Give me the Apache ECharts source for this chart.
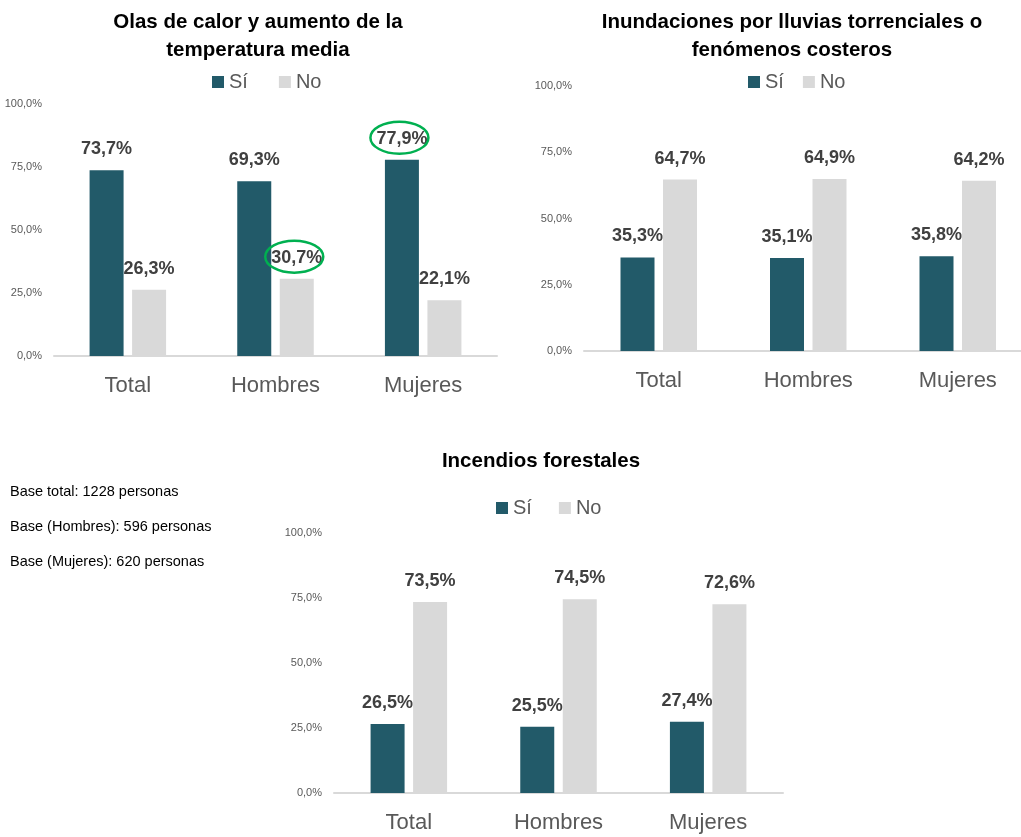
<!DOCTYPE html>
<html>
<head>
<meta charset="utf-8">
<script src="https://cdn.jsdelivr.net/npm/echarts@6/dist/echarts.min.js"></script>
<style>
  html, body { margin: 0; padding: 0; background: #fff; }
  #main { width: 1021px; height: 837px; }
</style>
</head>
<body>
<div id="main"></div>
<script>
// datos de la encuesta
var categorias = ['Total', 'Hombres', 'Mujeres'];
var calorSi = [73.7, 69.3, 77.9];
var calorNo = [26.3, 30.7, 22.1];
var inundSi = [35.3, 35.1, 35.8];
var inundNo = [64.7, 64.9, 64.2];
var incendSi = [26.5, 25.5, 27.4];
var incendNo = [73.5, 74.5, 72.6];
var titulos = ['Olas de calor y aumento de la\ntemperatura media', 'Inundaciones por lluvias torrenciales o\nfenómenos costeros', 'Incendios forestales'];
var notas = ['Base total: 1228 personas', 'Base (Hombres): 596 personas', 'Base (Mujeres): 620 personas'];
// etiquetas rodeadas en verde: [grid, serie, indice]
var destacados = [[0, 0, 2], [0, 1, 1]];

var FONT = '"Liberation Sans Narrow", "Arial Narrow", "Liberation Sans", Arial, sans-serif';
var colSi = '#225a69';
var colNo = '#d9d9d9';

function pct(v) {
    return v.toFixed(1).replace('.', ',') + '%';
}

(function () {
    var myChart = echarts.init(document.getElementById('main'));

    var grids = [
        { left: 54, right: 524, top: 104, bottom: 481, outerBoundsMode: 'none' },
        { left: 584, right: -11.5, top: 86, bottom: 486, outerBoundsMode: 'none' },
        { left: 334, right: 238, top: 533, bottom: 44, outerBoundsMode: 'none' }
    ];
    var datos = [[calorSi, calorNo], [inundSi, inundNo], [incendSi, incendNo]];

    var xAxes = [], yAxes = [], series = [];
    grids.forEach(function (g, i) {
        xAxes.push({
            type: 'category',
            gridIndex: i,
            data: categorias,
            axisTick: { show: false },
            axisLine: { lineStyle: { color: '#d9d9d9', width: 2 } },
            axisLabel: { color: '#595959', fontSize: 22, fontFamily: FONT, margin: 19 }
        });
        yAxes.push({
            type: 'value',
            gridIndex: i,
            min: 0,
            max: 100,
            interval: 25,
            splitLine: { show: false },
            axisLine: { show: false },
            axisTick: { show: false },
            axisLabel: {
                color: '#595959', fontSize: 11, fontFamily: FONT, margin: 12,
                formatter: function (v) { return pct(v); }
            }
        });
        ['Sí', 'No'].forEach(function (nombre, k) {
            series.push({
                name: nombre,
                type: 'bar',
                xAxisIndex: i,
                yAxisIndex: i,
                data: datos[i][k],
                barWidth: 34,
                barGap: '25%',
                itemStyle: { color: k === 0 ? colSi : colNo },
                label: {
                    show: true,
                    position: 'top',
                    distance: 12,
                    color: '#404040',
                    fontSize: 18,
                    fontWeight: 'bold',
                    fontFamily: FONT,
                    formatter: function (p) { return pct(p.value); }
                }
            });
        });
    });

    var leyenda = function (left, top, gap) {
        return {
            left: left, top: top,
            padding: 0,
            data: ['Sí', 'No'],
            itemWidth: 12, itemHeight: 12, itemGap: gap,
            icon: 'rect',
            selectedMode: false,
            textStyle: { color: '#595959', fontSize: 20, fontFamily: FONT }
        };
    };

    var graficos = [
        { type: 'text', x: 258, y: 8, style: { text: titulos[0], textAlign: 'center', font: 'bold 20.5px ' + FONT, fill: '#000', lineHeight: 28 } },
        { type: 'text', x: 792, y: 8, style: { text: titulos[1], textAlign: 'center', font: 'bold 20.5px ' + FONT, fill: '#000', lineHeight: 28 } },
        { type: 'text', x: 541, y: 451, style: { text: titulos[2], textAlign: 'center', font: 'bold 20.5px ' + FONT, fill: '#000' } }
    ];
    notas.forEach(function (t, i) {
        graficos.push({ type: 'text', x: 10, y: 484 + i * 35, style: { text: t, font: '14.5px ' + FONT, fill: '#000' } });
    });

    var option = {
        animation: false,
        grid: grids,
        xAxis: xAxes,
        yAxis: yAxes,
        legend: [
            leyenda(212, 72, 31),
            leyenda(748, 72, 19),
            leyenda(496, 498, 27)
        ],
        series: series,
        graphic: graficos
    };
    myChart.setOption(option);

    // elipses verdes alrededor de las etiquetas destacadas
    var elipses = [];
    destacados.forEach(function (d) {
        var s = d[0] * 2 + d[1];
        var lay = myChart.getModel().getSeriesByIndex(s).getData().getItemLayout(d[2]);
        var cx = lay.x + lay.width / 2 - 2.5;
        var cy = lay.y + lay.height - 22;
        elipses.push({
            type: 'ellipse',
            shape: { cx: cx, cy: cy, rx: 29, ry: 16 },
            style: { fill: 'none', stroke: '#00b050', lineWidth: 2.5 },
            z: 100
        });
    });
    myChart.setOption({ graphic: graficos.concat(elipses) });
})();
</script>
</body>
</html>
